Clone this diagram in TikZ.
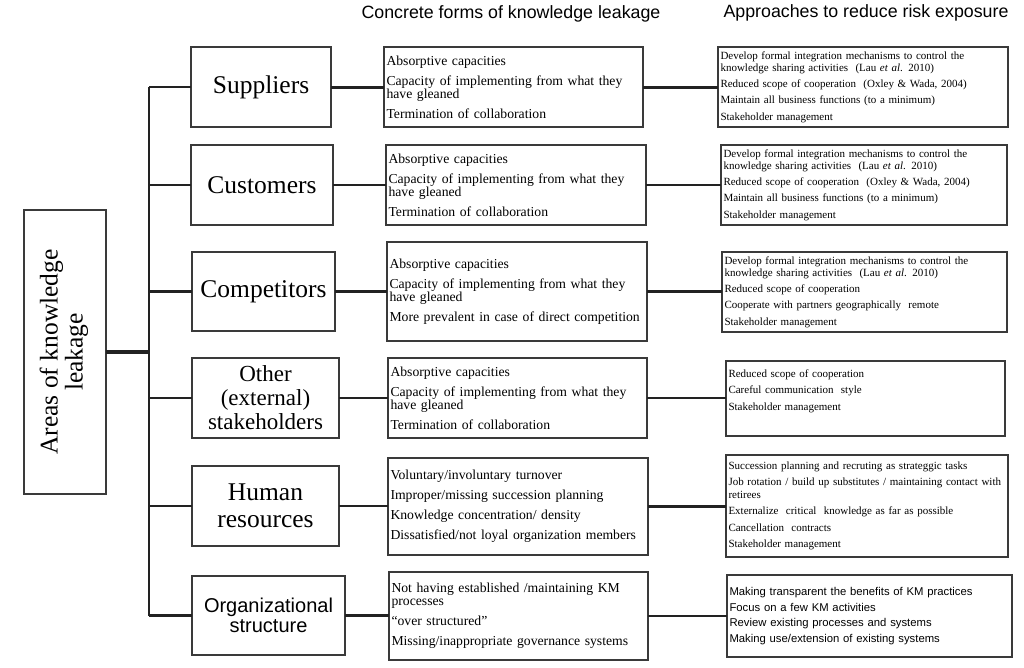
\documentclass[tikz,border=0pt]{standalone}
\usepackage{fontspec}
\setmainfont{Liberation Serif}
\setsansfont{Liberation Sans}
\definecolor{boxc}{HTML}{3A3A3A}
\definecolor{linec}{HTML}{222222}
\hyphenpenalty=10000
\exhyphenpenalty=10000
\begin{document}
\begin{tikzpicture}[x=1pt,y=-1pt,
  box/.style={draw=boxc, line width=1.3pt, anchor=north west, inner ysep=0pt, outer sep=0pt},
  cat/.style={box, align=center, inner xsep=0pt, font=\fontsize{25.5}{27}\selectfont},
  mid/.style={box, align=left, inner xsep=2.5pt, font=\fontsize{13.7}{13.3}\selectfont},
  rgt/.style={box, align=left, inner xsep=2.5pt, font=\fontsize{11}{12.5}\selectfont},
  head/.style={font=\sffamily\fontsize{17.8}{20}\selectfont, inner sep=0pt},
  link/.style={draw=linec, line width=2.2pt},
  thin/.style={draw=linec, line width=2.4pt},
]
\useasboundingbox[fill=white] (0,0) rectangle (1024,667);

% headers
\node[head] (h1) at (511,14) {Concrete forms of knowledge leakage};
\node[head] (h2) at (866,13) {Approaches to reduce risk exposure};

% left box
\node[draw=boxc, line width=1.3pt, minimum width=82pt, minimum height=284pt, inner sep=0pt, outer sep=0pt,
  font=\fontsize{25.5}{26}\selectfont] (area) at (65,352)
  {\rotatebox{90}{\begin{tabular}{@{}c@{}}Areas of knowledge\\[-1pt]leakage\end{tabular}}};

% category boxes
\node[cat, minimum width=140pt, minimum height=80pt] (c1) at (191,47) {Suppliers};
\node[cat, minimum width=142pt, minimum height=80pt] (c2) at (191,145) {Customers};
\node[cat, minimum width=143pt, minimum height=79pt] (c3) at (192,252) {Competitors};
\node[cat, minimum width=147pt, minimum height=80pt, font=\fontsize{23}{24}\selectfont] (c4) at (192,358) {Other\\(external)\\stakeholders};
\node[cat, minimum width=147pt, minimum height=80pt] (c5) at (192,466) {Human\\resources};
\node[cat, minimum width=153pt, minimum height=79pt, font=\sffamily\fontsize{20}{19.5}\selectfont] (c6) at (192,576) {Organizational\\structure};

% middle boxes
\node[mid, text width=254pt, minimum height=80pt] (m1) at (384,47)
 {Absorptive capacities\\[6.7pt]Capacity of implementing from what they\\have gleaned\\[6.7pt]Termination of collaboration};
\node[mid, text width=255pt, minimum height=80pt] (m2) at (386,145)
 {Absorptive capacities\\[6.7pt]Capacity of implementing from what they\\have gleaned\\[6.7pt]Termination of collaboration};
\node[mid, text width=255pt, minimum height=99pt] (m3) at (387,242)
 {Absorptive capacities\\[6.7pt]Capacity of implementing from what they\\have gleaned\\[6.7pt]More prevalent in case of direct competition};
\node[mid, text width=254pt, minimum height=80pt] (m4) at (388,358)
 {Absorptive capacities\\[6.7pt]Capacity of implementing from what they\\have gleaned\\[6.7pt]Termination of collaboration};
\node[mid, text width=255pt, minimum height=97pt] (m5) at (388,458)
 {Voluntary/involuntary turnover\\[6.7pt]Improper/missing succession planning\\[6.7pt]Knowledge concentration/ density\\[6.7pt]Dissatisfied/not loyal organization members};
\node[mid, text width=254pt, minimum height=88pt] (m6) at (389,572)
 {Not having established /maintaining KM\\processes\\[6.7pt]``over structured''\\[6.7pt]Missing/inappropriate governance systems};

% right boxes
\node[rgt, text width=285pt, minimum height=80pt] (r1) at (718,47)
 {\makebox[244pt][s]{Develop formal integration mechanisms to control the}\\knowledge sharing activities\ \ (Lau \textit{et al}. 2010)\\[3pt]Reduced scope of cooperation\ \ (Oxley \& Wada, 2004)\\[4pt]Maintain all business functions (to a minimum)\\[4pt]Stakeholder management};
\node[rgt, text width=281pt, minimum height=80pt] (r2) at (721,145)
 {\makebox[244pt][s]{Develop formal integration mechanisms to control the}\\knowledge sharing activities\ \ (Lau \textit{et al}. 2010)\\[3pt]Reduced scope of cooperation\ \ (Oxley \& Wada, 2004)\\[4pt]Maintain all business functions (to a minimum)\\[4pt]Stakeholder management};
\node[rgt, text width=280pt, minimum height=80pt] (r3) at (722,252)
 {\makebox[244pt][s]{Develop formal integration mechanisms to control the}\\knowledge sharing activities\ \ (Lau \textit{et al}. 2010)\\[3pt]Reduced scope of cooperation\\[4pt]Cooperate with partners geographically\ \ remote\\[4pt]Stakeholder management};
\node[rgt, text width=274pt, minimum height=75pt] (r4) at (726,361)
 {Reduced scope of cooperation\\[4pt]Careful communication\ \ style\\[4pt]Stakeholder management\rule[-17pt]{0pt}{17pt}};
\node[rgt, text width=277pt, minimum height=102pt] (r5) at (726,455)
 {Succession planning and recruting as strateggic tasks\\[3.5pt]\makebox[272pt][s]{Job rotation / build up substitutes / maintaining contact with}\\retirees\\[4pt]Externalize\ \ critical\ \ knowledge as far as possible\\[4pt]Cancellation\ \ contracts\\[4pt]Stakeholder management};
\node[rgt, text width=280pt, minimum height=82pt, font=\sffamily\fontsize{11.3}{15.7}\selectfont] (r6) at (727,575)
 {Making transparent the benefits of KM practices\\Focus on a few KM activities\\Review existing processes and systems\\Making use/extension of existing systems};

% bus
\coordinate (bus) at (149,0);
\draw[link, line width=3.5pt] (area.east) -- (area.east -| bus);
\draw[link] (bus |- c1.west) -- (bus |- c6.west);
\foreach \i in {1,...,6}{
  \draw[link] (bus |- c\i.west) -- (c\i.west);
}
% category -> middle -> right
\draw[thin, line width=3pt] (c1.east) -- (c1.east -| m1.west);
\draw[thin, line width=3pt] (m1.east) -- (m1.east -| r1.west);
\foreach \i in {2,...,6}{
  \draw[thin] (c\i.east) -- (c\i.east -| m\i.west);
  \draw[thin] (m\i.east) -- (m\i.east -| r\i.west);
}
\end{tikzpicture}
\end{document}
